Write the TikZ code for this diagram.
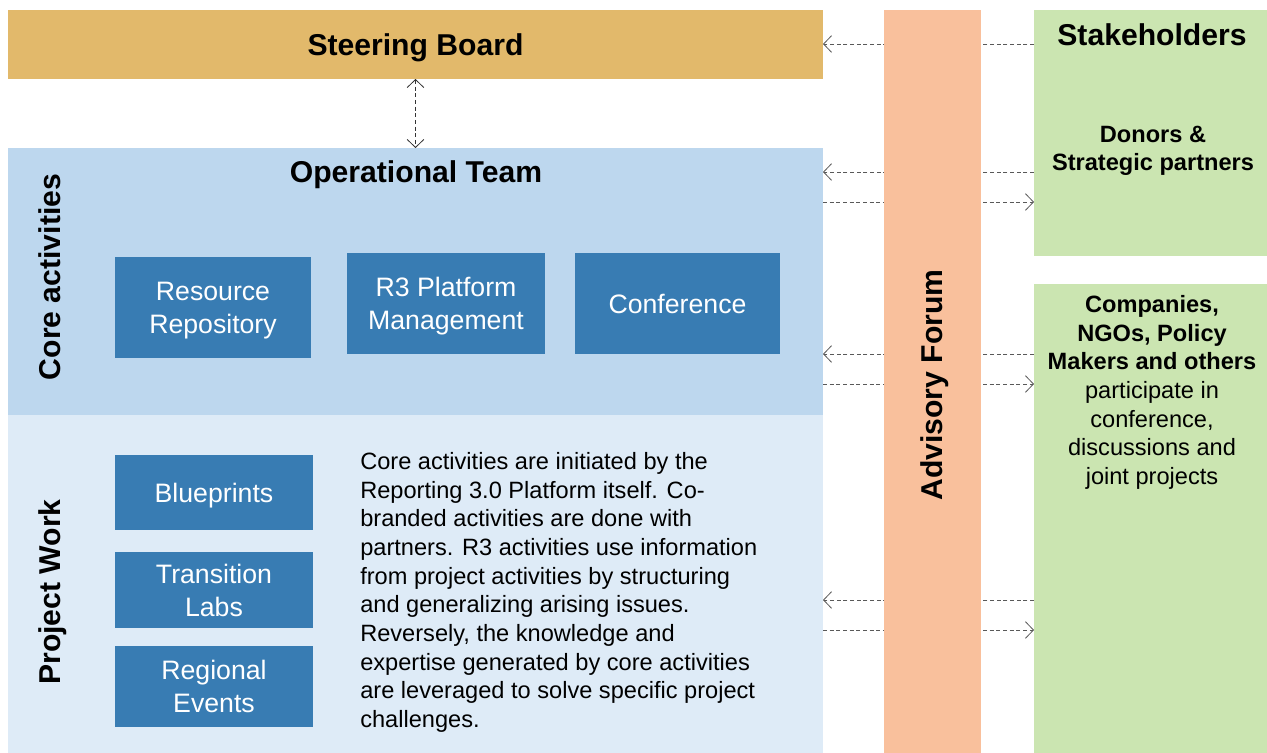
\documentclass[tikz,border=0pt]{standalone}
\usepackage{fontspec}
\setmainfont{Liberation Sans}
\usetikzlibrary{arrows.meta}
\definecolor{boardgold}{HTML}{E2B96B}
\definecolor{forumorange}{HTML}{F9C09C}
\definecolor{stakegreen}{HTML}{CBE5B1}
\definecolor{opsblue}{HTML}{BDD7EE}
\definecolor{projblue}{HTML}{DEEBF7}
\definecolor{actblue}{HTML}{387CB3}
\newcommand\pxu{0.75pt}
\begin{document}
\begin{tikzpicture}[x=0.75pt,y=-0.75pt,
  panel/.style={fill=#1,inner sep=0pt,outer sep=0pt},
  act/.style={fill=actblue,text=white,inner sep=0pt,outer sep=0pt,align=center,
    text depth=0pt,font=\fontsize{20}{24.75}\selectfont},
  head/.style={font=\bfseries\fontsize{22.6}{27}\selectfont,inner sep=0pt,text depth=0pt},
  body/.style={font=\fontsize{17.7}{21.5}\selectfont,inner sep=0pt},
  flow/.style={densely dashed,line width=0.6pt,black!65,
    -{Straight Barb[length=6pt,width=12.5pt]}},
  flowboth/.style={flow,{Straight Barb[length=6pt,width=12.5pt]}-{Straight Barb[length=6pt,width=12.5pt]},black!80}]
\useasboundingbox (0,0) rectangle (1267,753);
% left column
\node[panel=boardgold,minimum width=815*\pxu,minimum height=69*\pxu] (sb) at (415.5,44.5) {};
\node[head] (sbtext) at (415.5,45) {Steering Board};
\node[panel=opsblue,minimum width=815*\pxu,minimum height=267*\pxu] (ops) at (415.5,281.5) {};
\node[panel=projblue,minimum width=815*\pxu,minimum height=338*\pxu] (pw) at (415.5,584) {};
\node[head] (opstext) at (416,172) {Operational Team};
\node[head,rotate=90] (core) at (50,277) {Core activities};
\node[head,rotate=90] (proj) at (50,592) {Project Work};
% core activities
\node[act,minimum width=196*\pxu,minimum height=101*\pxu] (rr) at (213,307.5) {Resource\\Repository};
\node[act,minimum width=198*\pxu,minimum height=101*\pxu] (r3) at (446,303.5) {R3 Platform\\Management};
\node[act,minimum width=205*\pxu,minimum height=101*\pxu] (conf) at (677.5,303.5) {Conference};
% project work
\node[act,minimum width=198*\pxu,minimum height=75*\pxu] (bp) at (214,492.5) {Blueprints};
\node[act,minimum width=198*\pxu,minimum height=76*\pxu] (tl) at (214,590) {Transition\\Labs};
\node[act,minimum width=198*\pxu,minimum height=81*\pxu] (re) at (214,686.5) {Regional\\Events};
\node[body,anchor=north west,align=left] (note) at (360,452) {Core activities are initiated by the\\
Reporting 3.0 Platform itself. Co-\\
branded activities are done with\\
partners. R3 activities use information\\
from project activities by structuring\\
and generalizing arising issues.\\
Reversely, the knowledge and\\
expertise generated by core activities\\
are leveraged to solve specific project\\
challenges.};
% stakeholders
\node[panel=stakegreen,minimum width=233*\pxu,minimum height=246*\pxu] (stake) at (1150.5,133) {};
\node[head] (staketext) at (1152,35) {Stakeholders};
\node[body,font=\bfseries\fontsize{17.7}{21.5}\selectfont,align=center] (donors) at (1153,151) {Donors \&\\Strategic partners};
\node[panel=stakegreen,minimum width=233*\pxu,minimum height=469*\pxu] (comp) at (1150.5,518.5) {};
\node[body,anchor=north,align=center] (comptext) at (1152,295) {\textbf{Companies,}\\\textbf{NGOs, Policy}\\\textbf{Makers and others}\\
participate in\\conference,\\discussions and\\joint projects};
% arrows
\draw[flowboth] (sb.south) -- (ops.north);
\draw[flow] (stake.west |- 0,44) -- (sb.east |- 0,44);
\draw[flow] (stake.west |- 0,172) -- (ops.east |- 0,172);
\draw[flow] (ops.east |- 0,202) -- (stake.west |- 0,202);
\draw[flow] (comp.west |- 0,354) -- (ops.east |- 0,354);
\draw[flow] (ops.east |- 0,384) -- (comp.west |- 0,384);
\draw[flow] (comp.west |- 0,600) -- (pw.east |- 0,600);
\draw[flow] (pw.east |- 0,630) -- (comp.west |- 0,630);
% advisory forum on top of the arrows
\node[panel=forumorange,minimum width=97*\pxu,minimum height=743*\pxu] (forum) at (932.5,381.5) {};
\node[head,rotate=90] (forumtext) at (932,385) {Advisory Forum};
\end{tikzpicture}
\end{document}
